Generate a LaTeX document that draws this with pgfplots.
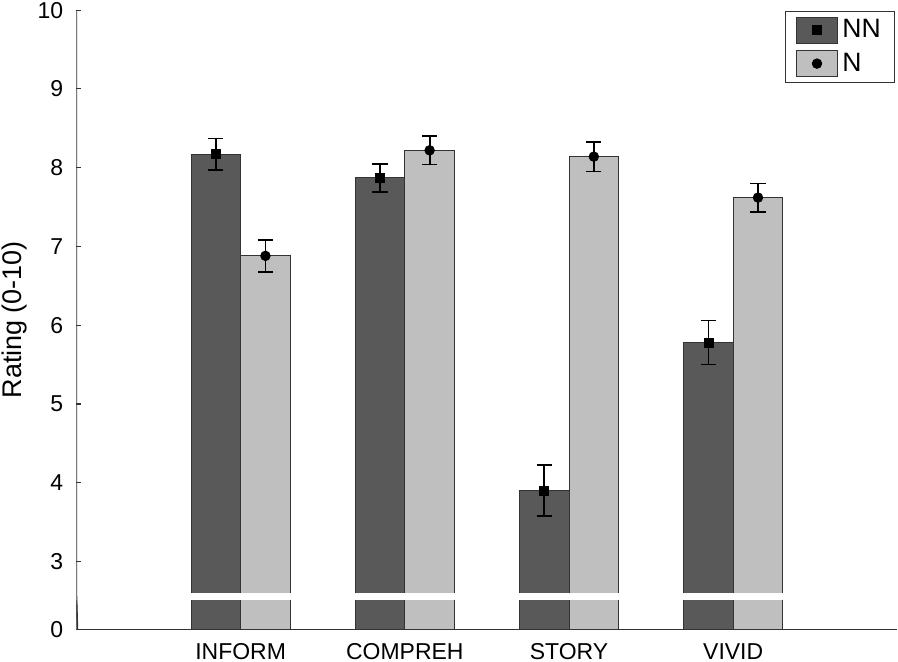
\documentclass[border=0pt]{standalone}
\usepackage{pgfplots}
\pgfplotsset{compat=1.18}
\usepackage{fontspec}
\setmainfont{Liberation Sans}
\definecolor{darkg}{HTML}{595959}
\definecolor{lightg}{HTML}{BFBFBF}
\definecolor{edge}{HTML}{333333}
\begin{document}
\begin{tikzpicture}
\begin{axis}[
  scale only axis, width=411pt, height=310pt,
  xmin=0, xmax=5, ymin=2.138, ymax=10,
  axis x line*=bottom, axis y line*=left,
  y axis line style={draw=none},
  x axis line style={edge, line width=0.6pt},
  xtick={1,2,3,4}, xticklabels={INFORM,COMPREH,STORY,VIVID},
  xtick style={draw=none},
  ytick={2.138,3,4,5,6,7,8,9,10}, yticklabels={0,3,4,5,6,7,8,9,10},
  ytick style={edge, line width=0.6pt},
  tick align=inside, major tick length=2.5pt,
  ylabel={Rating (0-10)},
  font=\fontsize{11.5}{13}\selectfont,
  /pgf/number format/assume math mode=true,
  xticklabel style={inner sep=1pt, yshift=-6pt},
  yticklabel style={inner sep=1pt, xshift=-5.5pt},
  ylabel style={inner sep=1pt, yshift=3pt, font=\fontsize{13.5}{15}\selectfont},
  legend style={at={(rel axis cs:1,1)}, anchor=north east, xshift=-1pt, yshift=-0.5pt,
    draw=edge, line width=0.6pt, inner xsep=5pt, inner ysep=2pt, row sep=2pt,
    font=\fontsize{13.3}{14}\selectfont},
  legend cell align=left,
  clip=true,
]
\addlegendimage{legend image code/.code={\draw[fill=darkg,draw=edge,line width=0.5pt] (0pt,-6.5pt) rectangle (21pt,6.5pt); \fill[black] (8.25pt,-2.25pt) rectangle (12.75pt,2.25pt);}}
\addlegendentry{NN}
\addlegendimage{legend image code/.code={\draw[fill=lightg,draw=edge,line width=0.5pt] (0pt,-6.5pt) rectangle (21pt,6.5pt); \fill[black] (10.5pt,0pt) circle (2.3pt);}}
\addlegendentry{N}

\addplot[ybar, bar width=0.302, bar shift=-0.151, fill=darkg, draw=edge, line width=0.5pt, forget plot]
 coordinates {(1,8.17) (2,7.87) (3,3.90) (4,5.78)};
\addplot[ybar, bar width=0.302, bar shift=0.151, fill=lightg, draw=edge, line width=0.5pt, forget plot]
 coordinates {(1,6.88) (2,8.22) (3,8.14) (4,7.62)};

\fill[white] (axis cs:0.5,2.506) rectangle (axis cs:4.5,2.600);

\addplot[only marks, mark=square*, mark size=2.25pt, black, forget plot,
  error bars/.cd, y dir=both, y explicit,
  error bar style={line width=0.9pt, black},
  error mark options={rotate=90, mark size=3.8pt, line width=0.9pt, black}]
 coordinates {(0.849,8.17) +- (0,0.20) (1.849,7.87) +- (0,0.18) (2.849,3.90) +- (0,0.32) (3.849,5.78) +- (0,0.28)};
\addplot[only marks, mark=*, mark size=2.4pt, black, forget plot,
  error bars/.cd, y dir=both, y explicit,
  error bar style={line width=0.9pt, black},
  error mark options={rotate=90, mark size=3.8pt, line width=0.9pt, black}]
 coordinates {(1.151,6.88) +- (0,0.20) (2.151,8.22) +- (0,0.18) (3.151,8.14) +- (0,0.19) (4.151,7.62) +- (0,0.18)};

\draw[edge, line width=0.7pt] (axis cs:0,10) -- (axis cs:0,2.600) -- ++(2.5pt,0);
\draw[edge, line width=0.7pt] (axis cs:0,2.506) ++(2.5pt,0) -- (axis cs:0,2.506) -- (axis cs:0,2.138);
\end{axis}
\end{tikzpicture}
\end{document}
